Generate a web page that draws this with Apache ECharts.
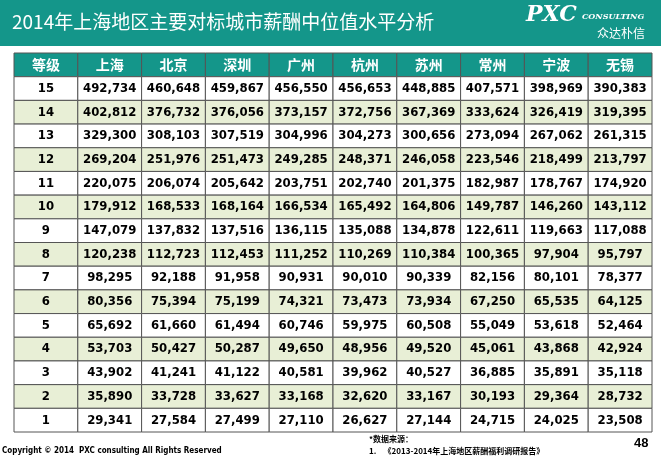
<!DOCTYPE html><html><head><meta charset="utf-8">
<script src="https://cdn.jsdelivr.net/npm/echarts@6/dist/echarts.min.js"></script>
<style>html,body{margin:0;padding:0;background:#fff}#c{width:661px;height:461px}</style></head><body><div id="c"></div>
<script>
const headers=['等级','上海','北京','深圳','广州','杭州','苏州','常州','宁波','无锡'];
const levels=[15,14,13,12,11,10,9,8,7,6,5,4,3,2,1];
const shanghai=[492734,402812,329300,269204,220075,179912,147079,120238,98295,80356,65692,53703,43902,35890,29341];
const beijing=[460648,376732,308103,251976,206074,168533,137832,112723,92188,75394,61660,50427,41241,33728,27584];
const shenzhen=[459867,376056,307519,251473,205642,168164,137516,112453,91958,75199,61494,50287,41122,33627,27499];
const guangzhou=[456550,373157,304996,249285,203751,166534,136115,111252,90931,74321,60746,49650,40581,33168,27110];
const hangzhou=[456653,372756,304273,248371,202740,165492,135088,110269,90010,73473,59975,48956,39962,32620,26627];
const suzhou=[448885,367369,300656,246058,201375,164806,134878,110384,90339,73934,60508,49520,40527,33167,27144];
const changzhou=[407571,333624,273094,223546,182987,149787,122611,100365,82156,67250,55049,45061,36885,30193,24715];
const ningbo=[398969,326419,267062,218499,178767,146260,119663,97904,80101,65535,53618,43868,35891,29364,24025];
const wuxi=[390383,319395,261315,213797,174920,143112,117088,95797,78377,64125,52464,42924,35118,28732,23508];
const cityCols=[shanghai,beijing,shenzhen,guangzhou,hangzhou,suzhou,changzhou,ningbo,wuxi];
const rowsLabels=['hdr'].concat(levels.map(String));
const fmt=v=>v.toLocaleString('en-US');
const data=[];
headers.forEach((h,c)=>data.push([c,0,h]));
levels.forEach((lv,r)=>{data.push([0,r+1,String(lv)]);cityCols.forEach((arr,c)=>data.push([c+1,r+1,fmt(arr[r])]));});
const chart=echarts.init(document.getElementById('c'));
const numFont='bold 13px "DejaVu Sans Condensed","DejaVu Sans"';
chart.setOption({
 animation:false,
 grid:{left:14,right:9,top:53,bottom:29},
 xAxis:{type:'category',data:headers,show:false},
 yAxis:{type:'category',data:rowsLabels,inverse:true,show:false},
 graphic:[
  {type:'rect',shape:{x:0,y:0,width:661,height:46},style:{fill:'#14968a'}},
  {type:'text',left:12,top:12,style:{text:'2014年上海地区主要对标城市薪酬中位值水平分析',fill:'#fff',font:'19px "Noto Sans CJK SC"'}},
  {type:'text',left:526,top:4,style:{text:'PXC',fill:'#fff',font:'italic bold 22px "DejaVu Serif"'}},
  {type:'text',left:582,top:13,style:{text:'CONSULTING',fill:'#fff',font:'italic bold 8px "DejaVu Serif"'}},
  {type:'text',left:597,top:27,style:{text:'众达朴信',fill:'#fff',font:'12px "Noto Sans CJK SC"'}},
  {type:'text',left:2,top:447,style:{text:'Copyright © 2014  PXC consulting All Rights Reserved',fill:'#000',font:'bold 8px "DejaVu Sans Condensed"'}},
  {type:'text',left:369,top:435,style:{text:'*数据来源：',fill:'#000',font:'bold 8px "Noto Sans CJK SC"'}},
  {type:'text',left:369,top:447,style:{text:'1.    《2013-2014年上海地区薪酬福利调研报告》',fill:'#000',font:'bold 8px "Noto Sans CJK SC"'}},
  {type:'text',left:634,top:437,style:{text:'48',fill:'#000',font:'bold 13px "Liberation Sans"'}}
 ],
 series:[{type:'custom',data:data,encode:{x:0,y:1},
  renderItem:(p,api)=>{
   const c=api.value(0),r=api.value(1);const pt=api.coord([c,r]);const s=api.size([1,1]);
   const x=pt[0]-s[0]/2,y=pt[1]-s[1]/2;
   const fill=r===0?'#14968a':(r%2===0?'#e8efd6':'#ffffff');
   return {type:'group',children:[
    {type:'rect',shape:{x:x,y:y,width:s[0],height:s[1]},style:{fill:fill,stroke:'#555',lineWidth:1}},
    {type:'text',style:{text:data[p.dataIndex][2],x:pt[0],y:pt[1],align:'center',verticalAlign:'middle',fill:r===0?'#fff':'#000',
      font:r===0?'bold 14px "Noto Sans CJK SC"':numFont}}
   ]};
  }}]
});
</script></body></html>
